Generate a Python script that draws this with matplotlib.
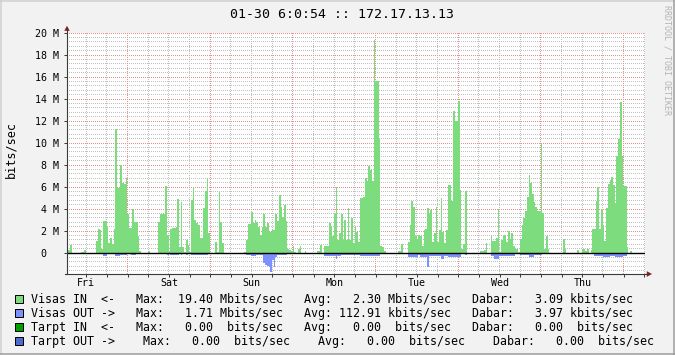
import numpy as np
import matplotlib
matplotlib.use("Agg")
import matplotlib.pyplot as plt
from matplotlib.lines import Line2D
from matplotlib.patches import Polygon, Rectangle
from matplotlib.colors import to_rgba

# ---------------- data ----------------
title = "01-30 6:0:54 :: 172.17.13.13"
y_label = "bits/sec"
watermark = "RRDTOOL / TOBI OETIKER"
day_labels = ["Fri", "Sat", "Sun", "Mon", "Tue", "Wed", "Thu"]
day_label_hours = [12, 36, 60, 84, 108, 132, 156]       # noon of each day (h after Fri 00:00)
y_tick_mbps = [0, 2, 4, 6, 8, 10, 12, 14, 16, 18, 20]
y_tick_labels = ["0  ", "2 M", "4 M", "6 M", "8 M", "10 M", "12 M",
                 "14 M", "16 M", "18 M", "20 M"]

start_hour = 6.4      # first sample, hours after Fri 00:00
step_hours = 0.5      # 30 minute consolidation

# Visas IN (Mbit/s), 30-min samples, 48 per row
in_part1 = [0.3, 0.3, 0.7, 0, 0, 0, 0, 0, 0.1, 0.1, 0.3, 0, 0, 0, 0, 0,
            0, 1.1, 2.2, 2.1, 0.4, 2.9, 2.9, 2.4, 0.9, 1.4, 0.8, 2.2, 11.3, 5.9, 5.9, 8.0,
            6.4, 6.3, 6.8, 3.5, 2.3, 2.3, 4.0, 2.8, 2.8, 1.5, 0.2, 0, 0, 0, 0, 0.2]
in_part2 = [0, 0, 0, 0, 0, 2.85, 3.5, 3.5, 3.5, 6.1, 1.6, 0.2, 2.2, 2.3, 2.3, 2.4,
            4.9, 0.5, 4.6, 0.5, 0.1, 1.2, 0.7, 0.1, 4.8, 6.0, 3.0, 2.7, 2.5, 1.4, 1.4, 4.1,
            5.6, 6.8, 1.8, 0, 0, 0, 1.0, 0.1, 5.5, 2.8, 0.9, 0, 0, 0, 0, 0]
in_part3 = [0, 0, 0, 0, 0, 0, 0, 0.1, 1.2, 2.6, 2.6, 3.7, 2.7, 3.0, 2.8, 2.4,
            1.6, 2.4, 3.5, 2.4, 2.7, 1.9, 1.9, 2.1, 2.1, 3.5, 2.9, 5.3, 4.2, 3.3, 4.4, 2.9,
            0.4, 0.3, 0.2, 0.6, 0.1, 0, 0.4, 0.6, 0, 0, 0.2, 0, 0, 0, 0, 0]
in_part4 = [0, 0.2, 0.2, 0.7, 0, 0.6, 0.6, 0.6, 2.7, 2.4, 1.5, 3.5, 6.0, 1.2, 1.8, 3.5,
            1.2, 3.0, 1.2, 4.1, 1.2, 3.2, 0.9, 2.4, 1.9, 1.0, 5.0, 5.0, 5.1, 6.8, 6.5, 7.9,
            7.5, 6.5, 19.4, 15.6, 15.6, 10.4, 0.6, 0.5, 0.2, 0, 0, 0, 0, 0, 0, 0]
in_part5 = [0.2, 0.2, 0.8, 0, 0, 0, 1.0, 2.5, 4.7, 4.2, 1.5, 1.3, 1.6, 1.5, 0.6, 2.1,
            2.2, 4.1, 3.5, 3.9, 1.0, 1.8, 4.2, 1.0, 2.1, 5.0, 1.9, 0.9, 2.1, 6.2, 6.2, 4.7,
            12.9, 12.0, 12.0, 13.8, 5.7, 0.4, 0.8, 5.6, 0, 0, 0, 0, 0, 0, 0, 0]
in_part6 = [0.2, 0.2, 0.3, 0.9, 0, 0, 1.5, 1.1, 1.1, 1.4, 4.0, 0.1, 1.2, 1.5, 1.6, 1.0,
            2.0, 1.3, 1.8, 0.6, 0.4, 0.4, 0.1, 1.3, 2.5, 3.2, 3.8, 5.1, 7.1, 6.4, 5.4, 4.6,
            4.2, 3.8, 3.8, 10.0, 3.6, 0.4, 1.5, 0.4, 0, 0, 0, 0, 0, 0, 0, 0]
in_part7 = [1.3, 0.4, 0, 0, 0, 0, 0, 0, 0.3, 0, 0, 0.4, 0.4, 0.2, 0.4, 0,
            0.3, 2.2, 2.2, 4.7, 6.0, 2.2, 3.9, 2.5, 1.1, 4.1, 6.3, 6.6, 6.9, 6.2, 4.5, 8.8,
            10.4, 13.7, 8.8, 6.1, 6.1, 0.5, 0, 0.2, 0, 0, 0, 0, 0, 0, 0, 0]

# Visas OUT (Mbit/s), drawn below zero
out_part1 = [0, 0, 0, 0, 0, 0, 0, 0, 0, 0, 0, 0, 0, 0, 0, 0,
             0, 0.1, 0.1, 0.1, 0.05, 0.25, 0.25, 0.1, 0.1, 0.1, 0.1, 0.1, 0.25, 0.25, 0.25, 0.2,
             0.2, 0.2, 0.2, 0.1, 0.1, 0.15, 0.15, 0.15, 0.05, 0.05, 0, 0, 0, 0, 0, 0]
out_part2 = [0, 0, 0, 0, 0, 0.1, 0.1, 0.1, 0.1, 0.1, 0.15, 0.05, 0.15, 0.15, 0.15, 0.15,
             0.15, 0.1, 0.15, 0.1, 0.05, 0.15, 0.1, 0.05, 0.2, 0.2, 0.15, 0.15, 0.15, 0.15, 0.15, 0.2,
             0.2, 0.2, 0.1, 0, 0, 0, 0.1, 0.05, 0.1, 0.1, 0.05, 0, 0, 0, 0, 0]
out_part3 = [0, 0, 0, 0, 0, 0, 0, 0.05, 0.2, 0.2, 0.2, 0.3, 0.3, 0.3, 0.2, 0.2,
             0.2, 0.2, 0.95, 1.1, 1.15, 1.3, 1.71, 0.6, 1.25, 0.35, 0.2, 0.2, 0.2, 0.2, 0.2, 0.2,
             0.05, 0.05, 0.05, 0.05, 0, 0, 0.05, 0.05, 0, 0, 0, 0, 0, 0, 0, 0]
out_part4 = [0, 0, 0, 0.05, 0, 0.3, 0.3, 0.3, 0.3, 0.3, 0.3, 0.3, 0.5, 0.3, 0.3, 0.15,
             0.15, 0.15, 0.15, 0.15, 0.15, 0.15, 0.15, 0.15, 0.15, 0.15, 0.27, 0.27, 0.27, 0.27, 0.27, 0.27,
             0.27, 0.27, 0.27, 0.27, 0.27, 0.27, 0.05, 0.05, 0, 0, 0, 0, 0, 0, 0, 0]
out_part5 = [0, 0, 0.05, 0, 0, 0, 0.33, 0.33, 0.33, 0.33, 0.33, 0.33, 0.15, 0.33, 0.33, 0.33,
             0.33, 1.25, 0.25, 0.25, 0.25, 0.25, 0.25, 0.25, 0.25, 0.5, 0.5, 0.25, 0.25, 0.33, 0.33, 0.33,
             0.33, 0.33, 0.33, 0.33, 0.33, 0.05, 0.05, 0.2, 0, 0, 0, 0, 0, 0, 0, 0]
out_part6 = [0.05, 0.05, 0.05, 0.1, 0, 0, 0.3, 0.3, 0.55, 0.55, 0.55, 0.25, 0.25, 0.25, 0.25, 0.25,
             0.25, 0.25, 0.25, 0.25, 0.1, 0.1, 0, 0.2, 0.2, 0.2, 0.2, 0.2, 0.4, 0.4, 0.4, 0.2,
             0.2, 0.2, 0.2, 0.2, 0.1, 0.1, 0.1, 0, 0, 0, 0, 0, 0, 0, 0, 0]
out_part7 = [0.05, 0, 0, 0, 0, 0, 0, 0, 0, 0, 0, 0, 0, 0, 0.1, 0,
             0, 0.1, 0.3, 0.3, 0.3, 0.3, 0.3, 0.4, 0.4, 0.4, 0.4, 0.3, 0.3, 0.3, 0.4, 0.4,
             0.4, 0.4, 0.4, 0.3, 0.3, 0, 0, 0, 0, 0, 0, 0, 0, 0, 0, 0]

legend_rows = [
    "Visas IN  <-   Max:  19.40 Mbits/sec   Avg:   2.30 Mbits/sec   Dabar:   3.09 kbits/sec",
    "Visas OUT ->   Max:   1.71 Mbits/sec   Avg: 112.91 kbits/sec   Dabar:   3.97 kbits/sec",
    "Tarpt IN  <-   Max:   0.00  bits/sec   Avg:   0.00  bits/sec   Dabar:   0.00  bits/sec",
    "Tarpt OUT ->    Max:   0.00  bits/sec    Avg:   0.00  bits/sec    Dabar:   0.00  bits/sec",
]

# ---------------- style ----------------
GREEN = "#7DDC7D"
BLUE = "#7C91FF"
LEG_COLORS = [GREEN, BLUE, "#00A000", "#4F6AD0"]
BACK = "#F2F2F2"
GRID = "#C0C0C0"
MGRID = "#E89090"
AXIS = "#3A3A3A"
ARROW = "#801F1F"

plt.rcParams["font.family"] = ["DejaVu Sans Mono", "DejaVu Sans"]

W, H = 675, 355
def fx(x):
    return x / W
def fy(y):
    return 1 - y / H

# plot area in whole pixels
PX_LEFT, PX_RIGHT, PX_TOP, PX_BOT = 67, 645, 33, 274
AX_W, AX_H = PX_RIGHT - PX_LEFT, PX_BOT - PX_TOP
Y_TOP = 20e6
px_per_unit = 220.0 / Y_TOP          # 0 sits 220 px below 20 M
y_min = Y_TOP - AX_H / px_per_unit
px_per_hour = 82.67 / 24.0
x_end = start_hour + AX_W / px_per_hour

vin = np.array(in_part1 + in_part2 + in_part3 + in_part4 + in_part5 + in_part6 + in_part7) * 1e6
vout = np.array(out_part1 + out_part2 + out_part3 + out_part4 + out_part5 + out_part6 + out_part7) * 1e6
edges = start_hour + step_hours * np.arange(len(vin) + 1)

fig = plt.figure(figsize=(W / 100, H / 100), dpi=100, facecolor=BACK)
ax = fig.add_axes([fx(PX_LEFT), fy(PX_BOT), AX_W / W, AX_H / H])
ax.set_facecolor("white")
for s in ax.spines.values():
    s.set_visible(False)

# dotted grid rendered pixel by pixel (1 on / 1 off like rrdtool)
grid_img = np.zeros((AX_H, AX_W, 4))
minor_rgba = np.array(to_rgba(GRID))
major_rgba = np.array(to_rgba(MGRID))

def col_of(hour):
    return int(np.floor((hour - start_hour) * px_per_hour))

def row_of(val):
    return int(np.floor((Y_TOP - val) * px_per_unit))

vlines = np.arange(6.0 * np.ceil(start_hour / 6.0), x_end, 6.0)
hsteps = [i for i in range(-4, 51) if i != 0]
for is_major in (False, True):
    rgba = major_rgba if is_major else minor_rgba
    for hh in vlines:
        if (int(round(hh)) % 24 == 0) != is_major:
            continue
        c = col_of(hh)
        if 0 <= c < AX_W:
            grid_img[0::2, c] = rgba
    for i in hsteps:
        if (i % 5 == 0) != is_major:
            continue
        r = min(row_of(i * 0.4e6), AX_H - 1)
        if 0 <= r < AX_H:
            grid_img[r, 0::2] = rgba
ax.imshow(grid_img, extent=(start_hour, x_end, y_min, Y_TOP), aspect="auto",
          interpolation="nearest", zorder=0.5)
ax.set_xlim(start_hour, x_end)
ax.set_ylim(y_min, Y_TOP)

# data
ax.stairs(vin, edges, baseline=0, fill=True, color=GREEN, lw=0, zorder=2)
ax.stairs(-vout, edges, baseline=0, fill=True, color=BLUE, lw=0, zorder=2)
ax.axhline(0, color="black", lw=1.0, zorder=3)

# ticks
ax.set_yticks([v * 1e6 for v in y_tick_mbps])
ax.set_yticklabels(y_tick_labels)
ax.tick_params(axis="y", length=2, width=0.72, color=AXIS, pad=3.6, labelsize=7.2)
ax.xaxis.remove_overlapping_locs = False
ax.set_xticks(day_label_hours)
ax.set_xticklabels(day_labels)
ax.set_xticks(vlines, minor=True)
ax.tick_params(axis="x", which="major", length=0, pad=3.0, labelsize=7.2)
ax.tick_params(axis="x", which="minor", length=2, width=0.72, color=AXIS)

# axis lines and arrows
fig.add_artist(Line2D([fx(PX_LEFT), fx(PX_LEFT)], [fy(PX_BOT), fy(29)], color=AXIS, lw=0.8))
fig.add_artist(Line2D([fx(PX_LEFT - 2), fx(648)], [fy(PX_BOT), fy(PX_BOT)], color=AXIS, lw=0.8))
fig.add_artist(Polygon([[fx(64.3), fy(30.8)], [fx(69.7), fy(30.8)], [fx(67), fy(25.8)]],
                       closed=True, color=ARROW, lw=0))
fig.add_artist(Polygon([[fx(646.8), fy(PX_BOT - 2.8)], [fx(646.8), fy(PX_BOT + 2.8)],
                        [fx(652), fy(PX_BOT)]], closed=True, color=ARROW, lw=0))

# texts
fig.text(fx(341.5), fy(14), title, ha="center", va="center", fontsize=9.5, color="black")
fig.text(fx(11), fy(150), y_label, ha="center", va="center", rotation=90, fontsize=8.5)
fig.text(fx(667), fy(60), watermark, ha="center", va="center", rotation=270,
         fontsize=6.0, color="#B4B4B4")

row_y = [299, 313, 327, 341]
for txt, col, yy in zip(legend_rows, LEG_COLORS, row_y):
    fig.add_artist(Rectangle((fx(15), fy(yy + 4)), 8 / W, 8 / H, facecolor=col,
                             edgecolor="black", lw=0.72))
    fig.text(fx(31), fy(yy), txt, ha="left", va="center", fontsize=8.4, color="black")

# 3D frame
fig.add_artist(Line2D([0, 1], [fy(0.75), fy(0.75)], color="#CFCFCF", lw=1.1))
fig.add_artist(Line2D([fx(0.75), fx(0.75)], [0, 1], color="#CFCFCF", lw=1.1))
fig.add_artist(Line2D([0, 1], [fy(H - 0.75), fy(H - 0.75)], color="#9E9E9E", lw=1.1))
fig.add_artist(Line2D([fx(W - 0.75), fx(W - 0.75)], [0, 1], color="#9E9E9E", lw=1.1))

fig.savefig("out.png", dpi=100, facecolor=BACK)
